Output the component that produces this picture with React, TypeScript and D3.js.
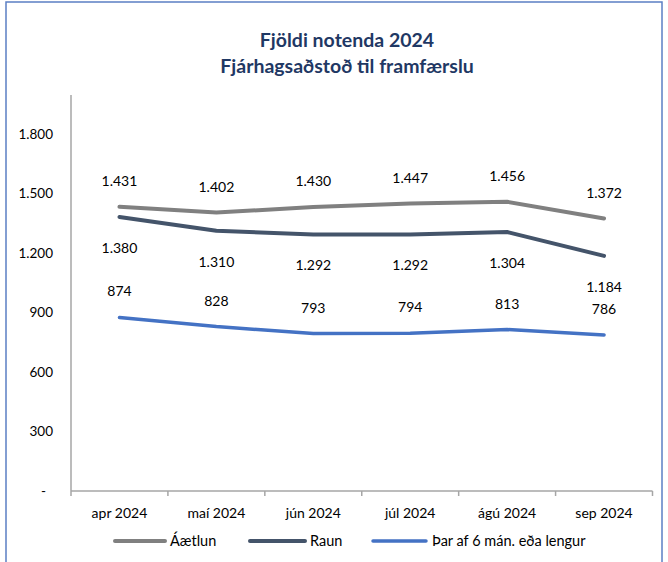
import React from "react";
import * as d3 from "d3";

const categories = ["apr 2024", "maí 2024", "jún 2024", "júl 2024", "ágú 2024", "sep 2024"];
const aaetlun = [1431, 1402, 1430, 1447, 1456, 1372];
const raun = [1380, 1310, 1292, 1292, 1304, 1184];
const thar = [874, 828, 793, 794, 813, 786];
const yTicks = [0, 300, 600, 900, 1200, 1500, 1800];
const titleLines = ["Fjöldi notenda 2024", "Fjárhagsaðstoð til framfærslu"];

const W = 668, H = 562;
const FONT = "Lato, 'Open Sans', sans-serif";

export default function App() {
  const x = d3.scaleBand<string>().domain(categories).range([71, 652.5]);
  const y = d3.scaleLinear().domain([0, 1800]).range([491, 133.5]);
  const cx = (c: string) => (x(c) as number) + x.bandwidth() / 2;
  const fmt = (v: number) => (v === 0 ? "-" : d3.format(",")(v).replace(/,/g, "."));
  const line = d3
    .line<number>()
    .x((_, i) => cx(categories[i]))
    .y((d) => y(d));

  const series = [
    { name: "Áætlun", data: aaetlun, color: "#808080", width: 4, dy: -26 },
    { name: "Raun", data: raun, color: "#44546A", width: 4, dy: 31 },
    { name: "Þar af 6 mán. eða lengur", data: thar, color: "#4472C4", width: 3.5, dy: -26 },
  ];
  const legend = [
    { x1: 115, x2: 165, tx: 170 },
    { x1: 250, x2: 305, tx: 310 },
    { x1: 373, x2: 426, tx: 432 },
  ];
  const boundaries = [...categories.map((c) => x(c) as number), 652.5];

  return (
    <svg width={W} height={H} style={{ position: "absolute", left: 0, top: 0 }} fontFamily={FONT}>
      <rect x={0} y={0} width={W} height={H} fill="#fff" />
      <rect x={6} y={2} width={656} height={H + 10} fill="none" stroke="#5B7FC4" strokeWidth={1.5} />
      {titleLines.map((t, i) => (
        <text key={i} x={347} y={47 + i * 26} textAnchor="middle" fontSize={19.5} fontWeight="bold" fill="#1F3864">
          {t}
        </text>
      ))}
      {/* axes */}
      <line x1={71} x2={71} y1={95} y2={491} stroke="#A6A6A6" strokeWidth={1.5} />
      <line x1={71} x2={652.5} y1={491} y2={491} stroke="#A6A6A6" strokeWidth={1.5} />
      {boundaries.map((b, i) => (
        <line key={i} x1={b} x2={b} y1={491} y2={496} stroke="#A6A6A6" strokeWidth={1.5} />
      ))}
      {yTicks.map((t) => (
        <text key={t} x={t === 0 ? 46 : 53} y={y(t) + 5} textAnchor="end" fontSize={13.5} fill="#000">
          {fmt(t)}
        </text>
      ))}
      {categories.map((c) => (
        <text key={c} x={cx(c)} y={518} textAnchor="middle" fontSize={14} fill="#000">
          {c}
        </text>
      ))}
      {series.map((s) => (
        <g key={s.name}>
          <path d={line(s.data) || ""} fill="none" stroke={s.color} strokeWidth={s.width} strokeLinejoin="round" strokeLinecap="round" />
          {s.data.map((v, i) => (
            <text key={i} x={cx(categories[i])} y={y(v) + s.dy + 5} textAnchor="middle" fontSize={14} fill="#000">
              {fmt(v)}
            </text>
          ))}
        </g>
      ))}
      {series.map((s, i) => (
        <g key={"lg" + i}>
          <line x1={legend[i].x1} x2={legend[i].x2} y1={541} y2={541} stroke={s.color} strokeWidth={s.width} strokeLinecap="round" />
          <text x={legend[i].tx} y={546} fontSize={14.5} fill="#000">
            {s.name}
          </text>
        </g>
      ))}
    </svg>
  );
}
